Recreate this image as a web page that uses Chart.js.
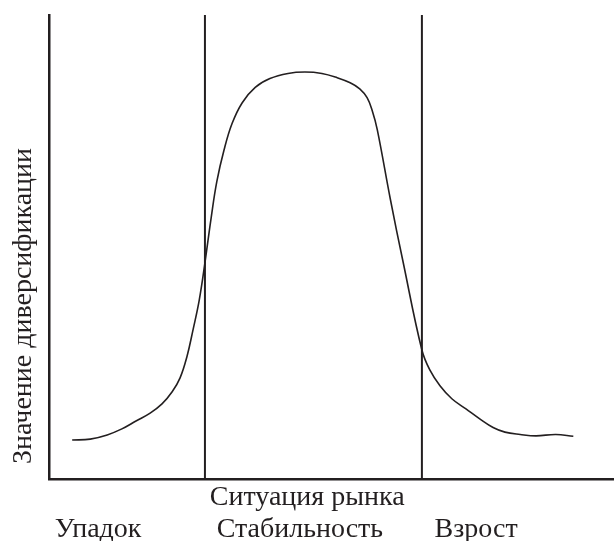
<!DOCTYPE html>
<html>
<head>
<meta charset="utf-8">
<script src="https://cdn.jsdelivr.net/npm/chart.js@4"></script>
<style>
  html, body { margin: 0; padding: 0; background: #fff; }
  #wrap { width: 614px; height: 541px; position: relative; }
</style>
</head>
<body>
<div id="wrap"><canvas id="diversChart"></canvas></div>
<script>
// curve (x: 0..100 market situation, y: 0..100 value)
const curveX = [4.1, 7.3, 10.3, 12.9, 15.4, 17.9, 20.0, 21.8, 23.2, 24.4, 25.5, 26.6, 27.6, 28.7, 29.7,
  31.0, 32.4, 34.2, 36.5, 39.1, 42.3, 45.3, 48.3, 51.0, 53.3, 55.0, 56.3, 57.2, 58.1, 60.4,
  62.7, 66.0, 67.4, 69.2, 71.3, 73.8, 76.3, 78.6, 80.7, 83.4, 86.2, 89.7, 92.8];
const curveY = [8.4, 8.6, 9.5, 10.8, 12.5, 14.2, 16.2, 18.8, 21.8, 26.3, 32.2, 38.6, 46.6, 56.3, 64.1,
  71.0, 76.6, 81.1, 84.4, 86.3, 87.4, 87.7, 87.4, 86.5, 85.4, 84.1, 82.2, 79.4, 75.3, 60.4,
  46.6, 27.8, 23.5, 20.1, 17.3, 15.1, 12.9, 11.1, 10.1, 9.6, 9.3, 9.6, 9.2];
const dividerX = [27.6, 66.0];
const phaseLabels = ['Упадок', 'Стабильность', 'Взрост'];
const phasePos = [8.7, 44.4, 75.6];
const xTitle = 'Ситуация рынка';
const xTitlePos = 45.7;
const yTitle = 'Значение диверсификации';

const INK = '#231f20';
const FONT = '28px "Liberation Serif", "Times New Roman", serif';

const curveData = curveX.map((x, i) => ({ x: x, y: curveY[i] }));
const dividerSets = dividerX.map(x => ({
  data: [{ x: x, y: 0 }, { x: x, y: 100 }],
  borderColor: INK,
  borderWidth: 2,
  pointRadius: 0,
  tension: 0
}));

// texts under the axis and along the y axis
const textPlugin = {
  id: 'texts',
  afterDraw(chart) {
    const ctx = chart.ctx;
    const xs = chart.scales.x;
    const bottom = chart.chartArea.bottom;
    ctx.save();
    ctx.font = FONT;
    ctx.fillStyle = INK;
    ctx.textAlign = 'center';
    ctx.textBaseline = 'alphabetic';
    ctx.fillText(xTitle, xs.getPixelForValue(xTitlePos), bottom + 26);
    phaseLabels.forEach((label, i) => {
      ctx.fillText(label, xs.getPixelForValue(phasePos[i]), bottom + 58);
    });
    const ys = chart.scales.y;
    ctx.translate(31, (ys.top + ys.bottom) / 2 + 59);
    ctx.rotate(-Math.PI / 2);
    ctx.fillText(yTitle, 0, 0);
    ctx.restore();
  }
};

new Chart(document.getElementById('diversChart'), {
  type: 'line',
  data: {
    datasets: [{
      data: curveData,
      borderColor: INK,
      borderWidth: 1.6,
      pointRadius: 0,
      tension: 0.4
    }].concat(dividerSets)
  },
  options: {
    responsive: true,
    maintainAspectRatio: false,
    animation: false,
    layout: { padding: { left: 49, right: 0, top: 15, bottom: 62 } },
    plugins: { legend: { display: false }, tooltip: { enabled: false } },
    scales: {
      x: {
        type: 'linear', min: 0, max: 100,
        ticks: { display: false },
        grid: { display: false, drawTicks: false },
        border: { display: true, color: INK, width: 2.5 }
      },
      y: {
        min: 0, max: 100,
        ticks: { display: false },
        grid: { display: false, drawTicks: false },
        border: { display: true, color: INK, width: 2.5 }
      }
    }
  },
  plugins: [textPlugin]
});
</script>
</body>
</html>
